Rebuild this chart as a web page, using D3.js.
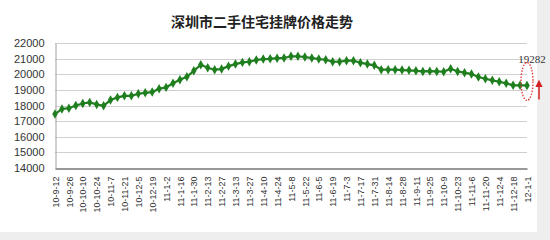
<!DOCTYPE html>
<html>
<head>
<meta charset="utf-8">
<script src="https://cdn.jsdelivr.net/npm/d3@7"></script>
<style>
  body { margin: 0; background: #eeeeee; }
  svg { display: block; }
</style>
</head>
<body>
<script>
const width = 550;
const height = 240;

// weekly listing price, 2010-09-12 .. 2012-01-01
const prices = [
  17450, 17780, 17830, 18000, 18130, 18200, 18070, 17980, 18350, 18520,
  18620, 18620, 18750, 18810, 18860, 19070, 19160, 19420, 19650, 19840,
  20220, 20610, 20420, 20290, 20330, 20520, 20650, 20760, 20800, 20910,
  20970, 20990, 21030, 21040, 21150, 21150, 21100, 21040, 20970, 20930,
  20800, 20800, 20870, 20870, 20740, 20650, 20570, 20290, 20290, 20290,
  20270, 20250, 20220, 20180, 20200, 20180, 20160, 20350, 20180, 20100,
  20010, 19820, 19710, 19610, 19520, 19420, 19290, 19290, 19282
];

// every second week gets a label
const tickLabels = [
  "10-9-12", "10-9-26", "10-10-10", "10-10-24", "10-11-7", "10-11-21",
  "10-12-5", "10-12-19", "11-1-2", "11-1-16", "11-1-30", "11-2-13",
  "11-2-27", "11-3-13", "11-3-27", "11-4-10", "11-4-24", "11-5-8",
  "11-5-22", "11-6-5", "11-6-19", "11-7-3", "11-7-17", "11-7-31",
  "11-8-14", "11-8-28", "11-9-11", "11-9-25", "11-10-9", "11-10-23",
  "11-11-6", "11-11-20", "11-12-4", "11-12-18", "12-1-1"
];

const yTicks = [14000, 15000, 16000, 17000, 18000, 19000, 20000, 21000, 22000];
const title = "深圳市二手住宅挂牌价格走势";
const lastLabel = "19282";

const lineColor = "#1f7f1f";
const plotLeft = 55;
const plotRight = 527;
const plotTop = 43;
const plotBottom = 168;

const x = d3.scaleLinear().domain([0, prices.length - 1]).range([plotLeft, plotRight]);
const y = d3.scaleLinear().domain([14000, 22000]).range([plotBottom, plotTop]);

const svg = d3
  .select("body")
  .append("svg")
  .attr("width", width)
  .attr("height", height);

svg
  .append("rect")
  .attr("width", 537)
  .attr("height", 232)
  .attr("fill", "#ffffff");

svg
  .append("text")
  .attr("x", 262)
  .attr("y", 27)
  .attr("text-anchor", "middle")
  .attr("font-family", "'Noto Sans CJK SC', sans-serif")
  .attr("font-weight", "bold")
  .attr("font-size", 14)
  .attr("fill", "#222")
  .text(title);

// gridlines
svg
  .append("g")
  .selectAll("line")
  .data(yTicks.slice(1))
  .enter()
  .append("line")
  .attr("x1", plotLeft)
  .attr("x2", plotRight)
  .attr("y1", (d) => Math.round(y(d)) + 0.5)
  .attr("y2", (d) => Math.round(y(d)) + 0.5)
  .attr("stroke", "#d0d0d0");

// y axis
const yAxis = svg
  .append("g")
  .attr("transform", `translate(${plotLeft + 0.5},0)`)
  .call(d3.axisLeft(y).tickValues(yTicks).tickSize(0).tickPadding(11).tickFormat(d3.format("d")));
yAxis.select(".domain").attr("stroke", "#a0a0a0");
yAxis
  .selectAll("text")
  .attr("font-family", "'Liberation Sans', Arial, sans-serif")
  .attr("font-size", 11)
  .attr("fill", "#333");

// x axis
const xAxis = svg
  .append("g")
  .attr("transform", `translate(0,${Math.round(plotBottom) + 0.5})`)
  .call(
    d3
      .axisBottom(x)
      .tickValues(tickLabels.map((_, i) => i * 2))
      .tickSize(0)
      .tickFormat((d) => tickLabels[d / 2])
  );
xAxis.select(".domain").attr("stroke", "#333");
xAxis
  .selectAll("text")
  .attr("font-family", "'Liberation Sans', Arial, sans-serif")
  .attr("font-size", 9)
  .attr("fill", "#333")
  .attr("text-anchor", "end")
  .attr("dy", "0.35em")
  .attr("transform", "translate(0,8) rotate(-90)")
  .attr("x", 0)
  .attr("y", 0);

// price line
const line = d3
  .line()
  .x((d, i) => x(i))
  .y((d) => y(d));

svg
  .append("path")
  .datum(prices)
  .attr("d", line)
  .attr("fill", "none")
  .attr("stroke", lineColor)
  .attr("stroke-width", 2.2);

svg
  .append("g")
  .selectAll("path")
  .data(prices)
  .enter()
  .append("path")
  .attr("transform", (d, i) => `translate(${x(i)},${y(d)})`)
  .attr("d", d3.symbol(d3.symbolDiamond, 26))
  .attr("fill", lineColor);

// annotation on the last week
const lastX = x(prices.length - 1);
const lastY = y(prices[prices.length - 1]);

svg
  .append("text")
  .attr("x", lastX + 5)
  .attr("y", plotTop + 20)
  .attr("text-anchor", "middle")
  .attr("font-family", "'Liberation Serif', 'DejaVu Serif', serif")
  .attr("font-size", 11)
  .attr("fill", "#333")
  .text(lastLabel);

svg
  .append("ellipse")
  .attr("cx", lastX)
  .attr("cy", lastY - 4)
  .attr("rx", 6)
  .attr("ry", 19)
  .attr("fill", "none")
  .attr("stroke", "#e03030")
  .attr("stroke-width", 1.3)
  .attr("stroke-dasharray", "1.5,1.5");

svg
  .append("defs")
  .append("marker")
  .attr("id", "arrow")
  .attr("viewBox", "0 0 10 10")
  .attr("refX", 5)
  .attr("refY", 5)
  .attr("markerWidth", 5)
  .attr("markerHeight", 6)
  .attr("orient", "auto")
  .append("path")
  .attr("d", "M0,0L10,5L0,10Z")
  .attr("fill", "#d42020");

svg
  .append("line")
  .attr("x1", lastX + 12)
  .attr("x2", lastX + 12)
  .attr("y1", lastY + 14)
  .attr("y2", lastY - 2)
  .attr("stroke", "#d42020")
  .attr("stroke-width", 1.5)
  .attr("marker-end", "url(#arrow)");
</script>
</body>
</html>
